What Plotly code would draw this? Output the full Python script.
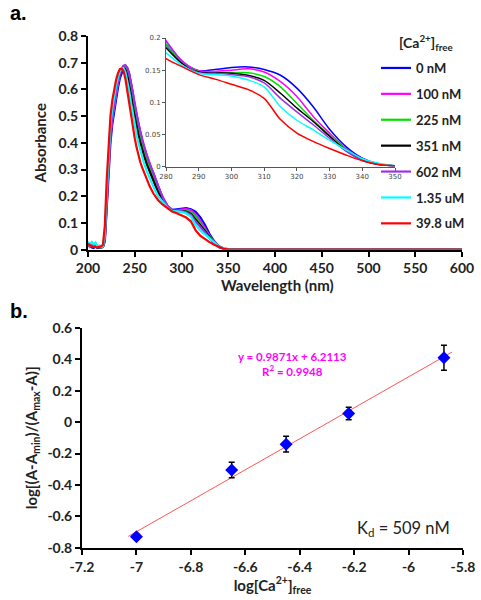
import plotly.graph_objects as go

# ---------------- Data: panel a (absorbance spectra) ----------------
wavelength = [200, 202, 204, 206, 208, 210, 212, 214, 216,
              218, 220, 222, 224, 226, 228, 230, 232, 234, 236, 238, 240,
              242, 244, 246, 248, 250, 252, 254, 256, 258, 260, 263, 266, 270, 275, 280, 285, 290,
              295, 300, 305, 310, 315, 320, 325, 330, 335, 340, 345, 350,
              355, 360, 400, 450, 500, 550, 600]

abs_0nM = [.015, .010, .008, .006, .012, .007, .008, .008, .010,
           .03, .15, .30, .40, .47, .52, .565, .605, .64, .665, .680, .687,
           .680, .660, .628, .585, .535, .500, .470, .440, .405, .380, .345, .315, .285, .235, .190, .163, .149,
           .151, .154, .155, .151, .142, .122, .093, .058, .031, .013, .004, .001,
           0, 0, 0, 0, 0, 0, 0]
abs_100nM = [.025, .014, .026, .018, .022, .012, .014, .010, .012,
             .04, .17, .32, .43, .49, .54, .585, .622, .653, .674, .687, .688,
             .678, .655, .622, .580, .537, .500, .468, .438, .408, .383, .348, .318, .284, .235, .196, .164, .149,
             .148, .150, .152, .147, .132, .109, .078, .052, .028, .012, .004, .001,
             0, 0, 0, 0, 0, 0, 0]
abs_225nM = [.020, .010, .015, .012, .018, .010, .008, .010, .010,
             .045, .19, .34, .44, .50, .55, .595, .63, .657, .675, .684, .680,
             .665, .632, .595, .552, .512, .477, .445, .417, .390, .366, .333, .304, .272, .225, .190, .162, .148,
             .147, .146, .146, .140, .124, .098, .072, .049, .027, .011, .004, .001,
             0, 0, 0, 0, 0, 0, 0]
abs_351nM = [.018, .014, .010, .012, .015, .008, .010, .008, .010,
             .05, .20, .35, .45, .51, .56, .60, .635, .660, .675, .682, .675,
             .655, .620, .580, .535, .495, .460, .428, .400, .373, .350, .318, .290, .258, .215, .185, .160, .147,
             .146, .145, .142, .134, .114, .091, .070, .047, .025, .010, .003, .001,
             0, 0, 0, 0, 0, 0, 0]
abs_602nM = [.020, .012, .022, .016, .024, .010, .012, .009, .011,
             .04, .17, .32, .43, .495, .545, .59, .628, .658, .678, .689, .691,
             .680, .658, .625, .583, .540, .503, .472, .442, .412, .387, .352, .322, .288, .238, .195, .163, .146,
             .145, .143, .140, .130, .106, .085, .065, .044, .024, .0095, .003, .001,
             0, 0, 0, 0, 0, 0, 0]
abs_1_35uM = [.030, .018, .028, .020, .025, .012, .015, .010, .012,
              .06, .22, .37, .47, .53, .575, .615, .645, .668, .680, .680, .665,
              .635, .595, .550, .505, .465, .430, .398, .370, .345, .323, .293, .265, .235, .200, .177, .157, .145,
              .143, .141, .135, .124, .093, .072, .057, .041, .026, .012, .005, .001,
              0, 0, 0, 0, 0, 0, 0]
abs_39_8uM = [.022, .015, .012, .010, .008, .008, .010, .012, .018,
              .09, .26, .40, .50, .56, .60, .635, .66, .676, .678, .668, .640,
              .595, .545, .497, .455, .417, .382, .352, .327, .307, .290, .262, .237, .210, .185, .168, .155, .143,
              .136, .128, .120, .106, .073, .052, .039, .028, .018, .009, .003, .001,
              0, 0, 0, 0, 0, 0, 0]

series_names = ["0 nM", "100 nM", "225 nM", "351 nM", "602 nM", "1.35 uM", "39.8 uM"]
series_values = [abs_0nM, abs_100nM, abs_225nM, abs_351nM, abs_602nM, abs_1_35uM, abs_39_8uM]
series_colors = ["#0000ff", "#ff00ff", "#00e000", "#000000", "#a030e8", "#00ffff", "#ff0000"]

# ---------------- Data: panel b (Hill-type plot) ----------------
log_ca_free = [-7.00, -6.65, -6.45, -6.22, -5.87]
log_ratio = [-0.73, -0.305, -0.14, 0.055, 0.41]
log_ratio_err = [0.015, 0.05, 0.05, 0.04, 0.08]
fit_slope = 0.9871
fit_intercept = 6.2113
fit_x_range = [-7.03, -5.84]

top_x_ticks = [200, 250, 300, 350, 400, 450, 500, 550, 600]
top_y_ticks = [0, 0.1, 0.2, 0.3, 0.4, 0.5, 0.6, 0.7, 0.8]
top_y_labels = ["0", "0.1", "0.2", "0.3", "0.4", "0.5", "0.6", "0.7", "0.8"]
inset_x_ticks = [280, 290, 300, 310, 320, 330, 340, 350]
inset_y_ticks = [0, 0.05, 0.1, 0.15, 0.2]
inset_y_labels = ["0", "0.05", "0.1", "0.15", "0.2"]
bot_x_ticks = [-7.2, -7.0, -6.8, -6.6, -6.4, -6.2, -6.0, -5.8]
bot_x_labels = ["-7.2", "-7", "-6.8", "-6.6", "-6.4", "-6.2", "-6", "-5.8"]
bot_y_ticks = [-0.8, -0.6, -0.4, -0.2, 0, 0.2, 0.4, 0.6]
bot_y_labels = ["-0.8", "-0.6", "-0.4", "-0.2", "0", "0.2", "0.4", "0.6"]

W, H = 481, 600
def px(x):
    return x / W
def py(y):
    return 1 - y / H

FONT = "Lato"
TXT = "#222222"

fig = go.Figure()

# main spectra
for name, vals, col in zip(series_names, series_values, series_colors):
    fig.add_trace(go.Scatter(x=wavelength, y=vals, mode="lines", name=name,
                             line=dict(color=col, width=2.2), xaxis="x", yaxis="y",
                             legendgroup=name, showlegend=True))
# inset spectra
for name, vals, col in zip(series_names, series_values, series_colors):
    fig.add_trace(go.Scatter(x=wavelength, y=vals, mode="lines", name=name,
                             line=dict(color=col, width=1.5, shape="spline", smoothing=0.8),
                             xaxis="x3", yaxis="y3", legendgroup=name, showlegend=False))

# fit line
fit_y = [fit_slope * v + fit_intercept for v in fit_x_range]
fig.add_trace(go.Scatter(x=fit_x_range, y=fit_y, mode="lines",
                         line=dict(color="#ff5555", width=1), xaxis="x2", yaxis="y2",
                         showlegend=False))
# data points with error bars
fig.add_trace(go.Scatter(x=log_ca_free, y=log_ratio, mode="markers",
                         marker=dict(symbol="diamond", size=10, color="#0000ff"),
                         error_y=dict(type="data", array=log_ratio_err, color="#000000",
                                      thickness=1.5, width=3),
                         xaxis="x2", yaxis="y2", showlegend=False))

axis_common = dict(showgrid=False, zeroline=False, showline=True, linecolor="black",
                   linewidth=2, ticks="outside", ticklen=5, tickwidth=2, tickcolor="black",
                   automargin=False,
                   tickfont=dict(family=FONT, size=14, color=TXT, weight="bold"))

fig.update_layout(
    width=W, height=H,
    margin=dict(l=0, r=0, t=0, b=0, pad=0, autoexpand=False),
    paper_bgcolor="white", plot_bgcolor="rgba(0,0,0,0)",
    showlegend=True,
    legend=dict(x=px(376), y=py(53), xanchor="left", yanchor="top",
                xref="container", yref="container",
                font=dict(family=FONT, size=13, color=TXT, weight="bold"),
                tracegroupgap=6, itemwidth=30, bgcolor="rgba(0,0,0,0)"),
    xaxis=dict(axis_common, domain=[px(88), px(462)], range=[200, 600], anchor="y",
               tickvals=top_x_ticks, layer="below traces"),
    yaxis=dict(axis_common, domain=[py(249.6), py(36)], range=[0, 0.8], anchor="x",
               tickvals=top_y_ticks, ticktext=top_y_labels,
               title=dict(text="Absorbance", standoff=8,
                          font=dict(family=FONT, size=15, color=TXT, weight="bold"))),
    xaxis3=dict(showgrid=False, zeroline=False, showline=True, linecolor="#555555", linewidth=1,
                ticks="outside", ticklen=3, tickcolor="#555555", tickwidth=1, automargin=False,
                domain=[px(166), px(395)], range=[280, 350], anchor="y3",
                tickvals=inset_x_ticks,
                tickfont=dict(family="DejaVu Sans", size=7, color="#444444")),
    yaxis3=dict(showgrid=False, zeroline=False, showline=True, linecolor="#555555", linewidth=1,
                ticks="outside", ticklen=3, tickcolor="#555555", tickwidth=1, automargin=False,
                domain=[py(166.5), py(38)], range=[0, 0.2], anchor="x3",
                tickvals=inset_y_ticks, ticktext=inset_y_labels,
                tickfont=dict(family="DejaVu Sans", size=7, color="#444444")),
    xaxis2=dict(axis_common, domain=[px(82), px(463)], range=[-7.2, -5.8], anchor="y2",
                tickvals=bot_x_ticks, ticktext=bot_x_labels,
                title=dict(text="log[Ca<sup>2+</sup>]<sub>free</sub>", standoff=2,
                           font=dict(family=FONT, size=15, color=TXT, weight="bold"))),
    yaxis2=dict(axis_common, domain=[py(547.7), py(328)], range=[-0.8, 0.6], anchor="x2",
                tickvals=bot_y_ticks, ticktext=bot_y_labels,
                title=dict(text="log[(A-A<sub>min</sub>)/(A<sub>max</sub>-A)]", standoff=6,
                           font=dict(family=FONT, size=15, color=TXT, weight="bold"))),
    annotations=[
        dict(text="a.", x=px(8), y=py(13), xref="paper", yref="paper", xanchor="left",
             yanchor="middle", showarrow=False,
             font=dict(family="Liberation Sans", size=20, color="black", weight="bold")),
        dict(text="b.", x=px(8), y=py(311), xref="paper", yref="paper", xanchor="left",
             yanchor="middle", showarrow=False,
             font=dict(family="Liberation Sans", size=20, color="black", weight="bold")),
        dict(text="Wavelength (nm)", x=px(277), y=py(285), xref="paper", yref="paper",
             xanchor="center", yanchor="middle", showarrow=False,
             font=dict(family=FONT, size=15, color=TXT, weight="bold")),
        dict(text="[Ca<sup>2+</sup>]<sub>free</sub>", x=px(426), y=py(43), xref="paper",
             yref="paper", xanchor="center", yanchor="middle", showarrow=False,
             font=dict(family=FONT, size=14, color=TXT, weight="bold")),
        dict(text="y = 0.9871x + 6.2113<br>R<sup>2</sup> = 0.9948", x=px(292), y=py(364),
             xref="paper", yref="paper", xanchor="center", yanchor="middle", showarrow=False,
             align="center", font=dict(family=FONT, size=11.5, color="#ff00ff", weight="bold")),
        dict(text="K<sub>d</sub> = 509 nM", x=px(452), y=py(528), xref="paper", yref="paper",
             xanchor="right", yanchor="middle", showarrow=False,
             font=dict(family=FONT, size=16.5, color=TXT)),
    ],
)

fig.write_html("out.html", config={"displayModeBar": False},
               post_script="document.body.style.margin='0px';")
